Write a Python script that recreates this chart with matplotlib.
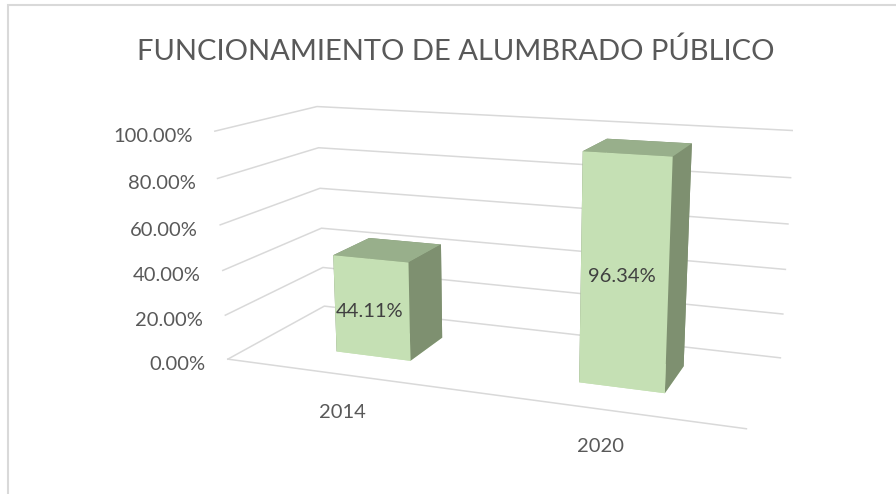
import matplotlib
matplotlib.use("Agg")
import matplotlib.pyplot as plt
from matplotlib.patches import Rectangle
from matplotlib.transforms import offset_copy

# data
years = ["2014", "2020"]
values = [44.11, 96.34]
ticks = [0, 20, 40, 60, 80, 100]
title = "FUNCIONAMIENTO DE ALUMBRADO PÚBLICO"

front_col = "#C5E0B4"
top_col = "#98AF8B"
side_col = "#7E9070"
grid_col = "#D9D9D9"
txt_col = "#595959"

plt.rcParams['font.family'] = ['Lato', 'DejaVu Sans']

fig = plt.figure(figsize=(8.96, 4.94), dpi=100)
fig.patch.set_facecolor("white")

# chart border (right and bottom sides fall outside the picture)
fig.patches.append(Rectangle((7.5 / 896, -0.1), 1.2, 1.1 - 5.5 / 494,
                             transform=fig.transFigure, fill=False,
                             ec=grid_col, lw=1.5))

fig.text(456 / 896, 1 - 60 / 494, title, ha='center', va='baseline',
         fontsize=21, color=txt_col)

ax = fig.add_axes([0.2227, -0.118, 0.6629, 1.2024], projection='3d',
                  computed_zorder=False)
ax.set_box_aspect((0.4209, 0.1617, 0.1869))
ax.set_proj_type('persp', focal_length=0.38)
ax.view_init(elev=13.8, azim=-69.4)
ax.set_xlim(0, len(years))
ax.set_ylim(0, 1)
ax.set_zlim(0, 1)
ax.set_axis_off()
ax.patch.set_alpha(0)

n = len(years)
# gridlines on side wall and back wall, floor front edge
for t in ticks:
    z = t / 100
    ax.plot([0, 0, n], [0, 1, 1], [z, z, z], color=grid_col, lw=1.1, zorder=1)
ax.plot([0, n], [0, 0], [0, 0], color=grid_col, lw=1.1, zorder=1)

bw = 0.32
bd = 0.4
y0 = (1 - bd) / 2
for i, v in enumerate(values):
    ax.bar3d(i + 0.5 - bw / 2 + 0.01, y0, 0, bw, bd, v / 100,
             color=[front_col, top_col, front_col, side_col, side_col, side_col],
             shade=False, lw=0, zorder=3)

tick_tr = offset_copy(ax.transData, fig=fig, x=-22, y=-11, units='dots')
for t in ticks:
    ax.text(0, 0, t / 100, f"{t:.2f}%", ha='right', va='baseline',
            fontsize=14.5, color=txt_col, transform=tick_tr)

cat_tr = offset_copy(ax.transData, fig=fig, x=0, y=-43, units='dots')
for i, yr in enumerate(years):
    ax.text(i + 0.5, 0, 0, yr, ha='center', va='baseline',
            fontsize=14.5, color=txt_col, transform=cat_tr)

lab_tr = offset_copy(ax.transData, fig=fig, x=0, y=-9, units='dots')
for i, v in enumerate(values):
    ax.text(i + 0.5, y0, v / 200, f"{v:.2f}%", ha='center', va='baseline',
            fontsize=14.5, color="#404040", transform=lab_tr, zorder=5)

fig.savefig("out.png", dpi=100)
